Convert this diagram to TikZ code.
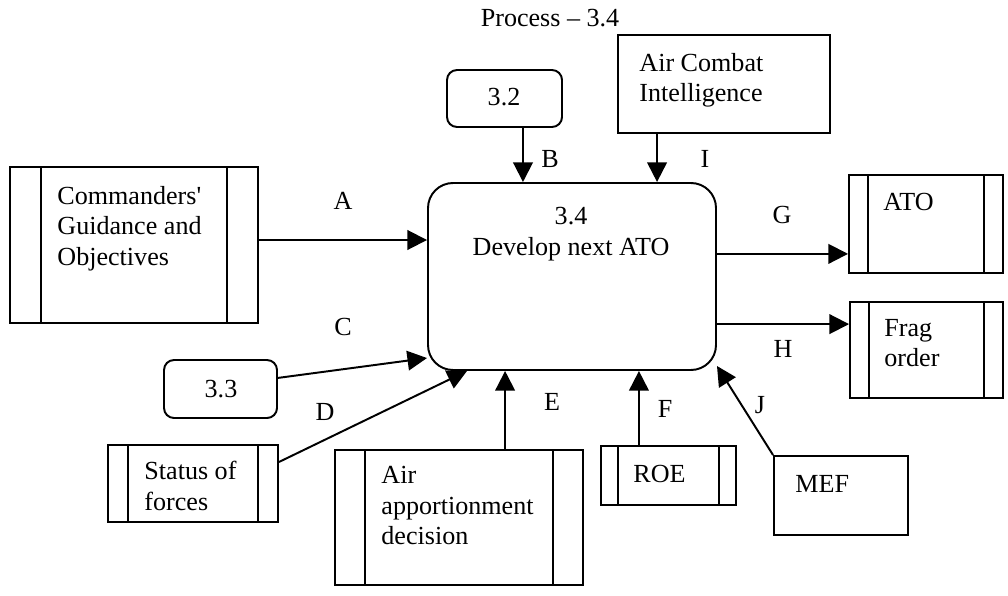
\documentclass[tikz,border=0pt]{standalone}
\usepackage{fontspec}
\setmainfont{Liberation Serif}[Ligatures=TeXOff]
\usetikzlibrary{arrows.meta,fit}
\tikzset{
  procbox/.style={draw,line width=0.9pt,rounded corners=11.5pt,inner sep=0pt},
  refbox/.style={draw,line width=0.9pt,rounded corners=4.6pt,inner sep=0pt},
  entitybox/.style={draw,line width=0.9pt,inner sep=0pt},
  storebox/.style={draw,line width=0.9pt,inner sep=0pt,
    path picture={
      \draw[line width=0.9pt] ([xshift=#1]path picture bounding box.south west) -- ([xshift=#1]path picture bounding box.north west);
      \draw[line width=0.9pt] ([xshift=-#1]path picture bounding box.south east) -- ([xshift=-#1]path picture bounding box.north east);
    }},
  boxtext/.style={font=\fontsize{12pt}{14pt}\selectfont,align=left,inner sep=0pt,anchor=north west},
  proctext/.style={font=\fontsize{12pt}{14pt}\selectfont,align=center,inner sep=0pt,anchor=north},
  flowlabel/.style={font=\fontsize{12pt}{14pt}\selectfont,inner sep=0pt,anchor=base},
  flowarrow/.style={-{Triangle[length=9pt,width=9pt]},line width=0.9pt}
}
\begin{document}
\begin{tikzpicture}[x=0.46pt,y=-0.46pt]
  \useasboundingbox (0,0) rectangle (1008,595);
  \node[flowlabel] (title) at (550,27) {Process – 3.4};
  % central process
  \node[procbox,fit={(428,183) (716,370)}] (proc) {};
  \node[proctext] (proclabel) at (571,207) {3.4\\Develop next ATO};
  % sources above
  \node[refbox,fit={(447,70) (562,127)}] (ref32) {};
  \node[flowlabel] (ref32label) at (504,105) {3.2};
  \node[entitybox,fit={(618,35) (830,133)}] (aci) {};
  \node[boxtext] (acilabel) at (639,53) {Air Combat\\Intelligence};
  % sources left
  \node[storebox=14.3pt,fit={(10,167) (258,323)}] (cmd) {};
  \node[boxtext] (cmdlabel) at (57,186) {Commanders'\\Guidance and\\Objectives};
  \node[refbox,fit={(164,360) (277,418)}] (ref33) {};
  \node[flowlabel] (ref33label) at (221,397) {3.3};
  \node[storebox=9.2pt,fit={(108,445) (278,522)}] (status) {};
  \node[boxtext] (statuslabel) at (144,461) {Status of\\forces};
  % sources below
  \node[storebox=13.8pt,fit={(335,450) (583,585)}] (air) {};
  \node[boxtext] (airlabel) at (381,466) {Air\\apportionment\\decision};
  \node[storebox=7.8pt,fit={(601,446) (736,505)}] (roe) {};
  \node[boxtext] (roelabel) at (633,465) {ROE};
  \node[entitybox,fit={(774,456) (908,535)}] (mef) {};
  \node[boxtext] (meflabel) at (795,475) {MEF};
  % outputs
  \node[storebox=8.7pt,fit={(849,175) (1003,273)}] (ato) {};
  \node[boxtext] (atolabel) at (883,193) {ATO};
  \node[storebox=8.7pt,fit={(850,302) (1003,398)}] (frag) {};
  \node[boxtext] (fraglabel) at (884,319) {Frag\\order};
  % flows
  \draw[flowarrow] ([yshift=2.3pt]cmd.east) -- ([yshift=2.3pt]cmd.east -| proc.west);
  \draw[flowarrow] ([xshift=8.5pt]ref32.south) -- ([xshift=8.5pt]ref32.south |- proc.north);
  \draw[flowarrow] ([xshift=-30.8pt]aci.south) -- ([xshift=-30.8pt]aci.south |- proc.north);
  \draw[flowarrow] ([yshift=5.1pt]ref33.east) -- ([yshift=-37.5pt]proc.west);
  \draw[flowarrow] ([yshift=9.9pt]status.east) -- ([xshift=-48.3pt]proc.south);
  \draw[flowarrow] ([xshift=21.2pt]air.north) -- ([xshift=21.2pt]air.north |- proc.south);
  \draw[flowarrow] ([xshift=-13.6pt]roe.north) -- ([xshift=-13.6pt]roe.north |- proc.south);
  \draw[flowarrow] (mef.north west) -- ([yshift=2.3pt]proc.south east);
  \draw[flowarrow] ([yshift=10.4pt]proc.east) -- ([yshift=10.4pt]proc.east -| ato.west);
  \draw[flowarrow] ([yshift=-21.9pt]proc.east) -- ([yshift=-21.9pt]proc.east -| frag.west);
  % flow letters
  \node[flowlabel] (la) at (343,209) {A};
  \node[flowlabel] (lb) at (550,167) {B};
  \node[flowlabel] (lc) at (343,335) {C};
  \node[flowlabel] (ld) at (325,420) {D};
  \node[flowlabel] (le) at (552,410) {E};
  \node[flowlabel] (lf) at (665,417) {F};
  \node[flowlabel] (lg) at (782,223) {G};
  \node[flowlabel] (lh) at (783,357) {H};
  \node[flowlabel] (li) at (705,167) {I};
  \node[flowlabel] (lj) at (760,413) {J};
\end{tikzpicture}
\end{document}
